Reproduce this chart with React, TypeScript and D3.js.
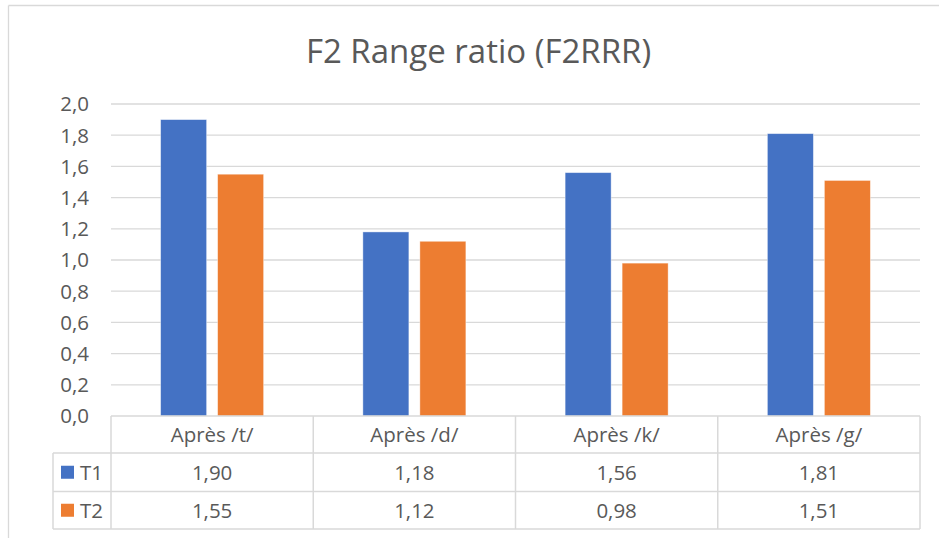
import React from "react";
import * as d3 from "d3";

const categories = ["Après /t/", "Après /d/", "Après /k/", "Après /g/"];
const seriesNames = ["T1", "T2"];
const t1Values = [1.9, 1.18, 1.56, 1.81];
const t2Values = [1.55, 1.12, 0.98, 1.51];
const yTicks = [0, 0.2, 0.4, 0.6, 0.8, 1.0, 1.2, 1.4, 1.6, 1.8, 2.0];
const colors = ["#4472C4", "#ED7D31"];

const W = 939;
const H = 538;
const FONT = "'Open Sans', 'Noto Sans', sans-serif";
const TXT = "#595959";
const GRID = "#d9d9d9";
const FS = 20.5;

export default function App() {
  const plotLeft = 111;
  const plotRight = 920;
  const plotTop = 104;
  const plotBottom = 416;
  const y = d3.scaleLinear().domain([0, 2]).range([plotBottom, plotTop]);
  const x = d3.scaleBand<string>().domain(categories).range([plotLeft, plotRight]);
  const bw = x.bandwidth();
  const barW = 46;
  const innerGap = 11;
  const series = [t1Values, t2Values];
  const fmt = (v: number) => v.toFixed(1).replace(".", ",");
  const fmt2 = (v: number) => v.toFixed(2).replace(".", ",");

  const row0 = 416, row1 = 453, row2 = 491.5, row3 = 529;
  const legendLeft = 53;
  const rows = [row1, row2, row3];

  return (
    <div style={{ position: "fixed", left: 0, top: 0, width: W, height: H, background: "#fff" }}>
      <svg width={W} height={H} style={{ display: "block" }} fontFamily={FONT}>
        <rect x={0} y={0} width={W} height={H} fill="#fff" />
        {/* chart frame */}
        <line x1={8.5} x2={W} y1={5.5} y2={5.5} stroke={GRID} strokeWidth={1.3} />
        <line x1={8.5} x2={8.5} y1={5.5} y2={H} stroke={GRID} strokeWidth={1.3} />

        <text x={478.5} y={62.5} textAnchor="middle" fontSize={33} fill={TXT}>
          F2 Range ratio (F2RRR)
        </text>

        {yTicks.map((t) => (
          <g key={t}>
            {t > 0 && (
              <line x1={plotLeft} x2={plotRight} y1={y(t)} y2={y(t)} stroke={GRID} strokeWidth={1.3} />
            )}
            <text x={89} y={y(t)} dy="0.36em" textAnchor="end" fontSize={FS} fill={TXT}>
              {fmt(t)}
            </text>
          </g>
        ))}

        {categories.map((c, i) => {
          const cx = (x(c) as number) + bw / 2;
          return (
            <g key={c}>
              {series.map((vals, s) => {
                const bx = s === 0 ? cx - innerGap / 2 - barW : cx + innerGap / 2;
                return (
                  <rect
                    key={s}
                    x={bx}
                    y={y(vals[i])}
                    width={barW}
                    height={y(0) - y(vals[i])}
                    fill={colors[s]}
                    stroke="#ffffff"
                    strokeOpacity={0.5}
                    strokeWidth={0.8}
                  />
                );
              })}
            </g>
          );
        })}

        {/* data table */}
        <g stroke={GRID} strokeWidth={1.5} fill="none">
          <line x1={plotLeft} x2={plotRight} y1={row0} y2={row0} />
          {rows.map((r) => (
            <line key={r} x1={legendLeft} x2={plotRight} y1={r} y2={r} />
          ))}
          <line x1={legendLeft} x2={legendLeft} y1={row1} y2={row3} />
          {categories.map((c) => (
            <line key={c} x1={x(c) as number} x2={x(c) as number} y1={row0} y2={row3} />
          ))}
          <line x1={plotRight} x2={plotRight} y1={row0} y2={row3} />
        </g>

        {categories.map((c) => (
          <text
            key={c}
            x={(x(c) as number) + bw / 2}
            y={(row0 + row1) / 2}
            dy="0.36em"
            textAnchor="middle"
            fontSize={FS}
            fill={TXT}
          >
            {c}
          </text>
        ))}

        {series.map((vals, s) => {
          const top = rows[s];
          const bot = rows[s + 1];
          const mid = (top + bot) / 2;
          return (
            <g key={s}>
              <rect x={61} y={mid - 6.5} width={13} height={13} fill={colors[s]} />
              <text x={80} y={mid} dy="0.36em" fontSize={FS} fill={TXT}>
                {seriesNames[s]}
              </text>
              {vals.map((v, i) => (
                <text
                  key={i}
                  x={(x(categories[i]) as number) + bw / 2}
                  y={mid}
                  dy="0.36em"
                  textAnchor="middle"
                  fontSize={FS}
                  fill={TXT}
                >
                  {fmt2(v)}
                </text>
              ))}
            </g>
          );
        })}
      </svg>
    </div>
  );
}
